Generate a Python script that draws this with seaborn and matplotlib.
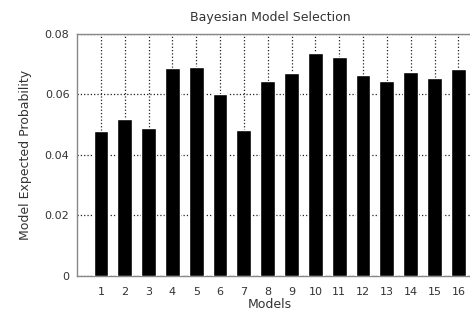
import matplotlib
matplotlib.use("Agg")
import matplotlib.pyplot as plt
import seaborn as sns
import pandas as pd

models = [str(i) for i in range(1, 17)]
probs = [0.0480, 0.0519, 0.0489, 0.0687, 0.0692, 0.0600, 0.0483, 0.0645,
         0.0671, 0.0736, 0.0723, 0.0663, 0.0645, 0.0673, 0.0655, 0.0683]
yticks = [0, 0.02, 0.04, 0.06, 0.08]
yticklabels = ["0", "0.02", "0.04", "0.06", "0.08"]

df = pd.DataFrame({"Models": models, "Prob": probs})

sns.set_style("white")
plt.rcParams["font.family"] = ["DejaVu Sans"]
txt = "#333333"

fig = plt.figure(figsize=(4.7, 3.23), dpi=100)
ax = fig.add_axes([0.164, 0.146, 0.9126, 0.749])
sns.barplot(data=df, x="Models", y="Prob", color="black", width=0.62,
            saturation=1, ax=ax, zorder=3)
ax.set_xlim(-1, 17)
ax.set_ylim(0, 0.08)
ax.set_yticks(yticks)
ax.set_yticklabels(yticklabels)
ax.grid(True, linestyle=":", color="#222222", linewidth=0.9, zorder=0)
ax.set_axisbelow(True)
for s in ax.spines.values():
    s.set_color("#888888")
    s.set_linewidth(1.0)
ax.tick_params(axis="both", labelsize=8, colors=txt, length=2, width=0.8)
ax.tick_params(axis="x", pad=6)
ax.set_xlabel("Models", fontsize=9, color=txt)
ax.xaxis.set_label_coords(0.45, -0.093)
ax.set_ylabel("Model Expected Probability", fontsize=9, color=txt, labelpad=9)
ax.set_title("Bayesian Model Selection", fontsize=9, color=txt, pad=9, x=0.45)
fig.savefig("out.png", dpi=100)
